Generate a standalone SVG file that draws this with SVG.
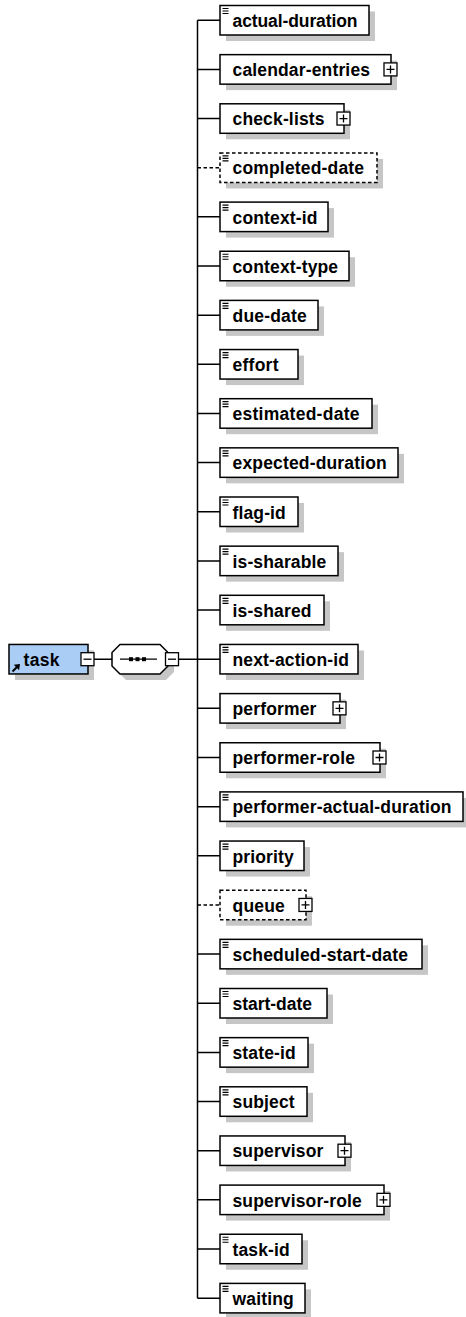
<svg xmlns="http://www.w3.org/2000/svg" width="466" height="1317" viewBox="0 0 466 1317">
<style>
.sh{fill:#c6c6c6}
.box{fill:#fff;stroke:#000;stroke-width:1.5}
.opt{stroke-dasharray:3.5 2.5}
.ref{fill:#a9cdf5;stroke:#000;stroke-width:1.5}
.t{font-family:"Liberation Sans",Arial,sans-serif;font-weight:bold;font-size:17.5px;fill:#000}
.ln{stroke:#000;stroke-width:1.5;fill:none}
</style>
<defs>
<g id="plus"><rect x="-6.5" y="-6.5" width="13" height="13" fill="#fff" stroke="#000" stroke-width="1.3"/><path d="M-4 0H4M0 -4V4" stroke="#000" stroke-width="1.3"/></g>
<g id="minus"><rect x="-6.5" y="-6.5" width="13" height="13" fill="#fff" stroke="#000" stroke-width="1.3"/><path d="M-4 0H4" stroke="#000" stroke-width="1.3"/></g>
<path id="ic" d="M2.5 3H8.5M2.5 5.5H8.5M2.5 8H8.5" stroke="#000" stroke-width="1.2"/>
</defs>
<g id="connectors">
<path class="ln" d="M197.5 20.25V1298.15"/>
<path class="ln" d="M94 659.2H112M178.5 659.2H197.5"/>
<path class="ln" d="M197.5 20.25H220M197.5 69.4H220M197.5 118.55H220M197.5 216.85H220M197.5 266H220M197.5 315.15H220M197.5 364.3H220M197.5 413.45H220M197.5 462.6H220M197.5 511.75H220M197.5 560.9H220M197.5 610.05H220M197.5 659.2H220M197.5 708.35H220M197.5 757.5H220M197.5 806.65H220M197.5 855.8H220M197.5 954.1H220M197.5 1003.25H220M197.5 1052.4H220M197.5 1101.55H220M197.5 1150.7H220M197.5 1199.85H220M197.5 1249H220M197.5 1298.15H220"/>
<path class="ln opt" d="M197.5 167.7H220M197.5 904.95H220"/>
</g>
<g id="task" transform="translate(9 644.45)">
<rect class="sh" x="6" y="6" width="79" height="29.5"/>
<rect class="ref" width="79" height="29.5"/>
<path d="M3.5 27L8.5 22" stroke="#000" stroke-width="2"/>
<polygon points="11,19.5 4.8,20.4 10.1,25.7" fill="#000"/>
<text class="t" x="14.5" y="21.5" textLength="36">task</text>
<use href="#minus" x="78.5" y="14.75"/>
</g>
<g id="sequence">
<polygon class="sh" points="126,650.45 166,650.45 174,658.45 174,671.95 166,679.95 126,679.95 118,671.95 118,658.45"/>
<polygon class="box" points="120,644.45 160,644.45 168,652.45 168,665.95 160,673.95 120,673.95 112,665.95 112,652.45"/>
<path d="M120 659.2H157" stroke="#000" stroke-width="1.3"/>
<rect x="129" y="657.2" width="4" height="4" fill="#000"/>
<rect x="135.5" y="657.2" width="4" height="4" fill="#000"/>
<rect x="142" y="657.2" width="4" height="4" fill="#000"/>
<use href="#minus" x="172" y="659.2"/>
</g>
<g id="actual-duration" transform="translate(220 5.5)"><rect class="sh" x="6" y="6" width="149" height="29.5"/><rect class="box" width="149" height="29.5"/><use href="#ic"/><text class="t" x="12.5" y="21.5" textLength="125">actual-duration</text></g>
<g id="calendar-entries" transform="translate(220 54.65)"><rect class="sh" x="6" y="6" width="171" height="29.5"/><rect class="box" width="171" height="29.5"/><text class="t" x="12.5" y="21.5" textLength="137.5">calendar-entries</text><use href="#plus" x="170.5" y="14.75"/></g>
<g id="check-lists" transform="translate(220 103.8)"><rect class="sh" x="6" y="6" width="124" height="29.5"/><rect class="box" width="124" height="29.5"/><text class="t" x="12.5" y="21.5" textLength="92">check-lists</text><use href="#plus" x="123.5" y="14.75"/></g>
<g id="completed-date" transform="translate(220 152.95)"><rect class="sh" x="6" y="6" width="157" height="29.5"/><rect class="box opt" width="157" height="29.5"/><use href="#ic"/><text class="t" x="12.5" y="21.5" textLength="131.5">completed-date</text></g>
<g id="context-id" transform="translate(220 202.1)"><rect class="sh" x="6" y="6" width="108" height="29.5"/><rect class="box" width="108" height="29.5"/><use href="#ic"/><text class="t" x="12.5" y="21.5" textLength="85">context-id</text></g>
<g id="context-type" transform="translate(220 251.25)"><rect class="sh" x="6" y="6" width="129" height="29.5"/><rect class="box" width="129" height="29.5"/><use href="#ic"/><text class="t" x="12.5" y="21.5" textLength="105.6">context-type</text></g>
<g id="due-date" transform="translate(220 300.4)"><rect class="sh" x="6" y="6" width="98" height="29.5"/><rect class="box" width="98" height="29.5"/><use href="#ic"/><text class="t" x="12.5" y="21.5" textLength="74.3">due-date</text></g>
<g id="effort" transform="translate(220 349.55)"><rect class="sh" x="6" y="6" width="78" height="29.5"/><rect class="box" width="78" height="29.5"/><use href="#ic"/><text class="t" x="12.5" y="21.5" textLength="46">effort</text></g>
<g id="estimated-date" transform="translate(220 398.7)"><rect class="sh" x="6" y="6" width="152" height="29.5"/><rect class="box" width="152" height="29.5"/><use href="#ic"/><text class="t" x="12.5" y="21.5" textLength="127">estimated-date</text></g>
<g id="expected-duration" transform="translate(220 447.85)"><rect class="sh" x="6" y="6" width="178" height="29.5"/><rect class="box" width="178" height="29.5"/><use href="#ic"/><text class="t" x="12.5" y="21.5" textLength="154.3">expected-duration</text></g>
<g id="flag-id" transform="translate(220 497)"><rect class="sh" x="6" y="6" width="78" height="29.5"/><rect class="box" width="78" height="29.5"/><use href="#ic"/><text class="t" x="12.5" y="21.5" textLength="53.3">flag-id</text></g>
<g id="is-sharable" transform="translate(220 546.15)"><rect class="sh" x="6" y="6" width="118" height="29.5"/><rect class="box" width="118" height="29.5"/><use href="#ic"/><text class="t" x="12.5" y="21.5" textLength="93.8">is-sharable</text></g>
<g id="is-shared" transform="translate(220 595.3)"><rect class="sh" x="6" y="6" width="104" height="29.5"/><rect class="box" width="104" height="29.5"/><use href="#ic"/><text class="t" x="12.5" y="21.5" textLength="79">is-shared</text></g>
<g id="next-action-id" transform="translate(220 644.45)"><rect class="sh" x="6" y="6" width="138" height="29.5"/><rect class="box" width="138" height="29.5"/><use href="#ic"/><text class="t" x="12.5" y="21.5" textLength="116.4">next-action-id</text></g>
<g id="performer" transform="translate(220 693.6)"><rect class="sh" x="6" y="6" width="120" height="29.5"/><rect class="box" width="120" height="29.5"/><text class="t" x="12.5" y="21.5" textLength="83.9">performer</text><use href="#plus" x="119.5" y="14.75"/></g>
<g id="performer-role" transform="translate(220 742.75)"><rect class="sh" x="6" y="6" width="160" height="29.5"/><rect class="box" width="160" height="29.5"/><text class="t" x="12.5" y="21.5" textLength="122.4">performer-role</text><use href="#plus" x="159.5" y="14.75"/></g>
<g id="performer-actual-duration" transform="translate(220 791.9)"><rect class="sh" x="6" y="6" width="243" height="29.5"/><rect class="box" width="243" height="29.5"/><use href="#ic"/><text class="t" x="12.5" y="21.5" textLength="219">performer-actual-duration</text></g>
<g id="priority" transform="translate(220 841.05)"><rect class="sh" x="6" y="6" width="84" height="29.5"/><rect class="box" width="84" height="29.5"/><use href="#ic"/><text class="t" x="12.5" y="21.5" textLength="61.2">priority</text></g>
<g id="queue" transform="translate(220 890.2)"><rect class="sh" x="6" y="6" width="86" height="29.5"/><rect class="box opt" width="86" height="29.5"/><text class="t" x="12.5" y="21.5" textLength="52.3">queue</text><use href="#plus" x="85.5" y="14.75"/></g>
<g id="scheduled-start-date" transform="translate(220 939.35)"><rect class="sh" x="6" y="6" width="202" height="29.5"/><rect class="box" width="202" height="29.5"/><use href="#ic"/><text class="t" x="12.5" y="21.5" textLength="175.5">scheduled-start-date</text></g>
<g id="start-date" transform="translate(220 988.5)"><rect class="sh" x="6" y="6" width="107" height="29.5"/><rect class="box" width="107" height="29.5"/><use href="#ic"/><text class="t" x="12.5" y="21.5" textLength="79.5">start-date</text></g>
<g id="state-id" transform="translate(220 1037.65)"><rect class="sh" x="6" y="6" width="88" height="29.5"/><rect class="box" width="88" height="29.5"/><use href="#ic"/><text class="t" x="12.5" y="21.5" textLength="63.2">state-id</text></g>
<g id="subject" transform="translate(220 1086.8)"><rect class="sh" x="6" y="6" width="87" height="29.5"/><rect class="box" width="87" height="29.5"/><use href="#ic"/><text class="t" x="12.5" y="21.5" textLength="62.2">subject</text></g>
<g id="supervisor" transform="translate(220 1135.95)"><rect class="sh" x="6" y="6" width="125" height="29.5"/><rect class="box" width="125" height="29.5"/><text class="t" x="12.5" y="21.5" textLength="90.8">supervisor</text><use href="#plus" x="124.5" y="14.75"/></g>
<g id="supervisor-role" transform="translate(220 1185.1)"><rect class="sh" x="6" y="6" width="164" height="29.5"/><rect class="box" width="164" height="29.5"/><text class="t" x="12.5" y="21.5" textLength="129.3">supervisor-role</text><use href="#plus" x="163.5" y="14.75"/></g>
<g id="task-id" transform="translate(220 1234.25)"><rect class="sh" x="6" y="6" width="82" height="29.5"/><rect class="box" width="82" height="29.5"/><use href="#ic"/><text class="t" x="12.5" y="21.5" textLength="57.2">task-id</text></g>
<g id="waiting" transform="translate(220 1283.4)"><rect class="sh" x="6" y="6" width="85" height="29.5"/><rect class="box" width="85" height="29.5"/><use href="#ic"/><text class="t" x="12.5" y="21.5" textLength="61.2">waiting</text></g>
</svg>
